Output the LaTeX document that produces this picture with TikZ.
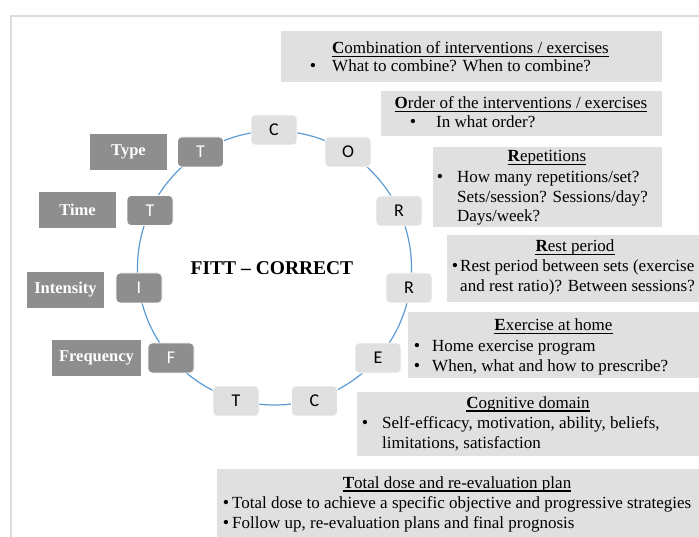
\documentclass[tikz,border=0pt]{standalone}
\usepackage{fontspec}
\setmainfont{Liberation Serif}
\newfontfamily\calib{Carlito}
\definecolor{lightbox}{HTML}{E0E0E0}
\definecolor{darkbox}{HTML}{8E8E8E}
\definecolor{ringblue}{HTML}{5B9BD5}
\definecolor{framegray}{HTML}{DCDCDC}
\begin{document}
\begin{tikzpicture}[x=1pt,y=-1pt,
  lbox/.style={rectangle, rounded corners=4pt, minimum width=46pt, minimum height=30pt,
    fill=lightbox, draw=white, line width=0.8pt, font=\calib\fontsize{18}{20}\selectfont, text=black, inner sep=0pt},
  dbox/.style={lbox, fill=darkbox, text=white},
  labelbox/.style={rectangle, fill=darkbox, text=white, inner sep=0pt, font=\bfseries\fontsize{16.5}{19}\selectfont},
  panel/.style={fill=lightbox, draw=none},
  txt/.style={inner sep=0pt, anchor=base west, font=\fontsize{17}{20}\selectfont},
  ttl/.style={inner sep=0pt, anchor=base, font=\fontsize{17}{20}\selectfont},
  bul/.style={inner sep=0pt, anchor=base, font=\fontsize{18}{20}\selectfont},
  uline/.style={line width=1.6pt, black}
]
\useasboundingbox (0,0) rectangle (699,537);
\fill[white] (0,0) rectangle (699,537);
% frame
\draw[framegray, line width=1.5pt] (11,537) -- (11,16) -- (699,16);

% ring
\draw[ringblue, line width=1.2pt] (274.5,268) circle[radius=137pt];

% letter boxes
\node[lbox] (c1) at (274,130) {C};
\node[lbox] (o1) at (348,152) {O};
\node[lbox] (r1) at (399,211) {R};
\node[lbox] (r2) at (409,288) {R};
\node[lbox] (e1) at (378,358) {E};
\node[lbox] (c2) at (314.5,401) {C};
\node[lbox] (t3) at (236,401) {T};
\node[dbox] (f1) at (171,358) {F};
\node[dbox] (i1) at (139,288) {I};
\node[dbox] (t2) at (150,210.5) {T};
\node[dbox] (t1) at (200.5,152) {T};

% centre title
\node[inner sep=0pt, font=\bfseries\fontsize{19.5}{22}\selectfont] (fitt) at (272,268) {FITT -- CORRECT};

% left labels
\node[labelbox, minimum width=77pt, minimum height=36pt] (type) at (128.5,152) {Type};
\node[labelbox, minimum width=77pt, minimum height=36pt] (time) at (77.5,210) {Time};
\node[labelbox, minimum width=77pt, minimum height=36pt] (inten) at (65.5,290) {Intensity};
\node[labelbox, minimum width=89pt, minimum height=36pt] (freq) at (96.5,358) {Frequency};

% panels
\fill[panel] (281,31) rectangle (662,82);
\fill[panel] (381,91) rectangle (662,136);
\fill[panel] (433,147) rectangle (662,227);
\fill[panel] (447,235) rectangle (699,302);
\fill[panel] (408,312) rectangle (699,378);
\fill[panel] (357,392) rectangle (699,456);
\fill[panel] (217,469) rectangle (699,537);

% Combination
\node[ttl] (tc) at (470.5,53.5) {\textbf{C}ombination of interventions / exercises};
\draw[uline] ([yshift=-3pt]tc.base west) -- ([yshift=-3pt]tc.base east);
\node[bul] (bc) at (313,72) {•};
\node[txt] (lc) at (332,72) {What to combine? When to combine?};

% Order
\node[ttl] (to) at (521,108.5) {\textbf{O}rder of the interventions / exercises};
\draw[uline] ([yshift=-3pt]to.base west) -- ([yshift=-3pt]to.base east);
\node[bul] (bo) at (413,128) {•};
\node[txt] (lo) at (436,128) {In what order?};

% Repetitions
\node[ttl] (tr) at (547,161.5) {\textbf{R}epetitions};
\draw[uline] ([yshift=-3pt]tr.base west) -- ([yshift=-3pt]tr.base east);
\node[bul] (br) at (440,183) {•};
\node[txt] (lr1) at (457,183) {How many repetitions/set?};
\node[txt] (lr2) at (457,203) {Sets/session? Sessions/day?};
\node[txt] (lr3) at (457,222) {Days/week?};

% Rest period
\node[ttl] (tp) at (575,251.5) {\textbf{R}est period};
\draw[uline] ([yshift=-3pt]tp.base west) -- ([yshift=-3pt]tp.base east);
\node[bul] (bp) at (455,271.5) {•};
\node[txt] (lp1) at (460,271.5) {Rest period between sets (exercise};
\node[txt] (lp2) at (460,291.5) {and rest ratio)? Between sessions?};

% Exercise at home
\node[ttl] (te) at (553.5,330.5) {\textbf{E}xercise at home};
\draw[uline] ([yshift=-3pt]te.base west) -- ([yshift=-3pt]te.base east);
\node[bul] (be1) at (417,351.5) {•};
\node[txt] (le1) at (432,351.5) {Home exercise program};
\node[bul] (be2) at (417,371.5) {•};
\node[txt] (le2) at (432,371.5) {When, what and how to prescribe?};

% Cognitive domain
\node[ttl] (tg) at (528,408) {\textbf{C}ognitive domain};
\draw[uline] ([yshift=-3pt]tg.base west) -- ([yshift=-3pt]tg.base east);
\node[bul] (bg) at (365,428) {•};
\node[txt] (lg1) at (382,428) {Self-efficacy, motivation, ability, beliefs,};
\node[txt] (lg2) at (382,448) {limitations, satisfaction};

% Total dose
\node[ttl] (tt) at (457,488) {\textbf{T}otal dose and re-evaluation plan};
\draw[uline] ([yshift=-3pt]tt.base west) -- ([yshift=-3pt]tt.base east);
\node[bul] (bt1) at (226,508) {•};
\node[txt] (lt1) at (232,508) {Total dose to achieve a specific objective and progressive strategies};
\node[bul] (bt2) at (226,528) {•};
\node[txt] (lt2) at (232,528) {Follow up, re-evaluation plans and final prognosis};
\end{tikzpicture}
\end{document}
